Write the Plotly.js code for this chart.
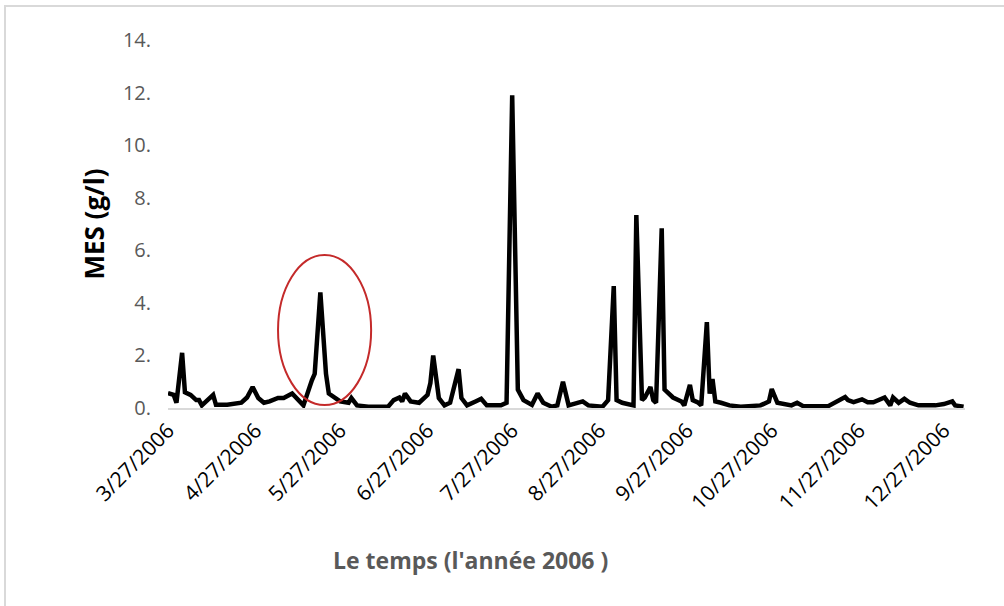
<!DOCTYPE html>
<html>
<head>
<meta charset="utf-8">
<script src="https://cdn.plot.ly/plotly-3.0.1.min.js"></script>
<style>
  html, body { margin: 0; padding: 0; background: #ffffff; }
  #wrap { position: relative; width: 1004px; height: 606px; overflow: hidden; }
  #chart { position: absolute; left: 0; top: 0; width: 1004px; height: 606px; }
  #frame { position: absolute; left: 4px; top: 5px; width: 1020px; height: 620px;
           border: 2px solid #d9d9d9; pointer-events: none; box-sizing: border-box; }
</style>
</head>
<body>
<div id="wrap"><div id="chart"></div><div id="frame"></div></div>
<script>
// Dates of the MES readings (2006)
const dates = [
  "2006-03-27","2006-03-29","2006-03-30","2006-04-01","2006-04-02","2006-04-04","2006-04-06","2006-04-07",
  "2006-04-08","2006-04-12","2006-04-13","2006-04-17","2006-04-22","2006-04-24","2006-04-26","2006-04-28",
  "2006-04-30","2006-05-02","2006-05-05","2006-05-07","2006-05-10","2006-05-13","2006-05-14","2006-05-17",
  "2006-05-18","2006-05-20","2006-05-22","2006-05-23","2006-05-27","2006-05-30","2006-05-31","2006-06-02",
  "2006-06-06","2006-06-13","2006-06-15","2006-06-17","2006-06-18","2006-06-19","2006-06-21","2006-06-24",
  "2006-06-27","2006-06-28","2006-06-29","2006-07-01","2006-07-03","2006-07-05","2006-07-08","2006-07-09",
  "2006-07-11","2006-07-14","2006-07-16","2006-07-18","2006-07-23","2006-07-25","2006-07-27","2006-07-29",
  "2006-07-31","2006-08-03","2006-08-05","2006-08-07","2006-08-10","2006-08-12","2006-08-14","2006-08-16",
  "2006-08-19","2006-08-21","2006-08-23","2006-08-28","2006-08-30","2006-09-01","2006-09-02","2006-09-04",
  "2006-09-08","2006-09-09","2006-09-11","2006-09-12","2006-09-14","2006-09-15","2006-09-16","2006-09-18",
  "2006-09-19","2006-09-22","2006-09-25","2006-09-26","2006-09-28","2006-09-29","2006-10-01","2006-10-02",
  "2006-10-04","2006-10-05","2006-10-06","2006-10-07","2006-10-09","2006-10-12","2006-10-16","2006-10-23",
  "2006-10-26","2006-10-27","2006-10-29","2006-11-03","2006-11-05","2006-11-07","2006-11-16","2006-11-18",
  "2006-11-20","2006-11-22","2006-11-23","2006-11-25","2006-11-28","2006-11-30","2006-12-02","2006-12-05",
  "2006-12-06","2006-12-08","2006-12-09","2006-12-11","2006-12-13","2006-12-15","2006-12-18","2006-12-21",
  "2006-12-24","2006-12-27","2006-12-30","2006-12-31","2007-01-03"
];
// MES concentration (g/l)
const mes = [
  0.57,0.5,0.2,2.1,0.6,0.5,0.3,0.3,
  0.1,0.5,0.12,0.12,0.2,0.4,0.8,0.38,
  0.2,0.25,0.38,0.38,0.55,0.25,0.1,1.05,
  1.3,4.4,1.3,0.55,0.25,0.2,0.38,0.1,
  0.05,0.05,0.3,0.4,0.25,0.55,0.25,0.2,
  0.5,0.95,2.0,0.38,0.1,0.2,1.48,0.38,
  0.1,0.25,0.35,0.1,0.1,0.2,11.9,0.7,
  0.3,0.12,0.55,0.2,0.05,0.1,1.0,0.1,
  0.2,0.25,0.1,0.05,0.3,4.64,0.3,0.2,
  0.1,7.34,0.3,0.4,0.8,0.3,0.2,6.84,
  0.7,0.4,0.25,0.1,0.88,0.3,0.2,0.1,
  3.27,0.55,1.1,0.25,0.2,0.1,0.05,0.1,
  0.25,0.72,0.2,0.1,0.2,0.08,0.07,0.2,
  0.3,0.42,0.3,0.22,0.33,0.22,0.22,0.33,
  0.4,0.1,0.4,0.2,0.35,0.2,0.1,0.1,
  0.1,0.15,0.25,0.1,0.05
];
// x tick labels (monthly from 3/27/2006)
const tickDates = ["2006-03-27","2006-04-27","2006-05-27","2006-06-27","2006-07-27","2006-08-27",
                   "2006-09-27","2006-10-27","2006-11-27","2006-12-27"];
const tickLabels = ["3/27/2006","4/27/2006","5/27/2006","6/27/2006","7/27/2006","8/27/2006",
                    "9/27/2006","10/27/2006","11/27/2006","12/27/2006"];
// y ticks
const yTickVals = [0,2,4,6,8,10,12,14];
const yTickText = ["0.","2.","4.","6.","8.","10.","12.","14."];
// highlighted event (red ellipse)
const highlightX = ["2006-05-05","2006-06-07"];
const highlightY = [0.11, 5.82];

const trace = {
  x: dates, y: mes, type: "scatter", mode: "lines",
  line: { color: "#000000", width: 4.5, shape: "linear" },
  hoverinfo: "x+y"
};

const layout = {
  width: 1004, height: 606,
  margin: { l: 168, r: 39, t: 40, b: 198 },
  paper_bgcolor: "rgba(0,0,0,0)", plot_bgcolor: "rgba(0,0,0,0)",
  showlegend: false,
  font: { family: "Open Sans, sans-serif", color: "#000000" },
  xaxis: {
    type: "date",
    range: ["2006-03-27", "2007-01-03 12:00"],
    tickvals: tickDates, ticktext: tickLabels,
    tickangle: -45, ticks: "",
    tickfont: { family: "Open Sans, sans-serif", size: 21, color: "#000000" },
    showgrid: false, zeroline: false,
    showline: true, linecolor: "#d9d9d9", linewidth: 2
  },
  yaxis: {
    range: [0, 14],
    tickvals: yTickVals, ticktext: yTickText, ticks: "",
    ticklabelstandoff: 16,
    tickfont: { family: "Open Sans, sans-serif", size: 20, color: "#595959" },
    showgrid: false, zeroline: false, showline: false,
    title: { text: "MES (g/l)", standoff: 10,
             font: { family: "Open Sans, sans-serif", size: 26, color: "#000000", weight: "bold" } }
  },
  shapes: [{
    type: "circle", xref: "x", yref: "y",
    x0: highlightX[0], x1: highlightX[1], y0: highlightY[0], y1: highlightY[1],
    line: { color: "#c42a2a", width: 2 }
  }],
  annotations: [{
    text: "<b>Le temps (l'année 2006 )</b>",
    xref: "paper", yref: "paper", x: 0.379, y: -0.413,
    xanchor: "center", yanchor: "middle", showarrow: false,
    font: { family: "Open Sans, sans-serif", size: 23, color: "#595959" }
  }]
};

Plotly.newPlot("chart", [trace], layout, { staticPlot: true, displayModeBar: false });
</script>
</body>
</html>
